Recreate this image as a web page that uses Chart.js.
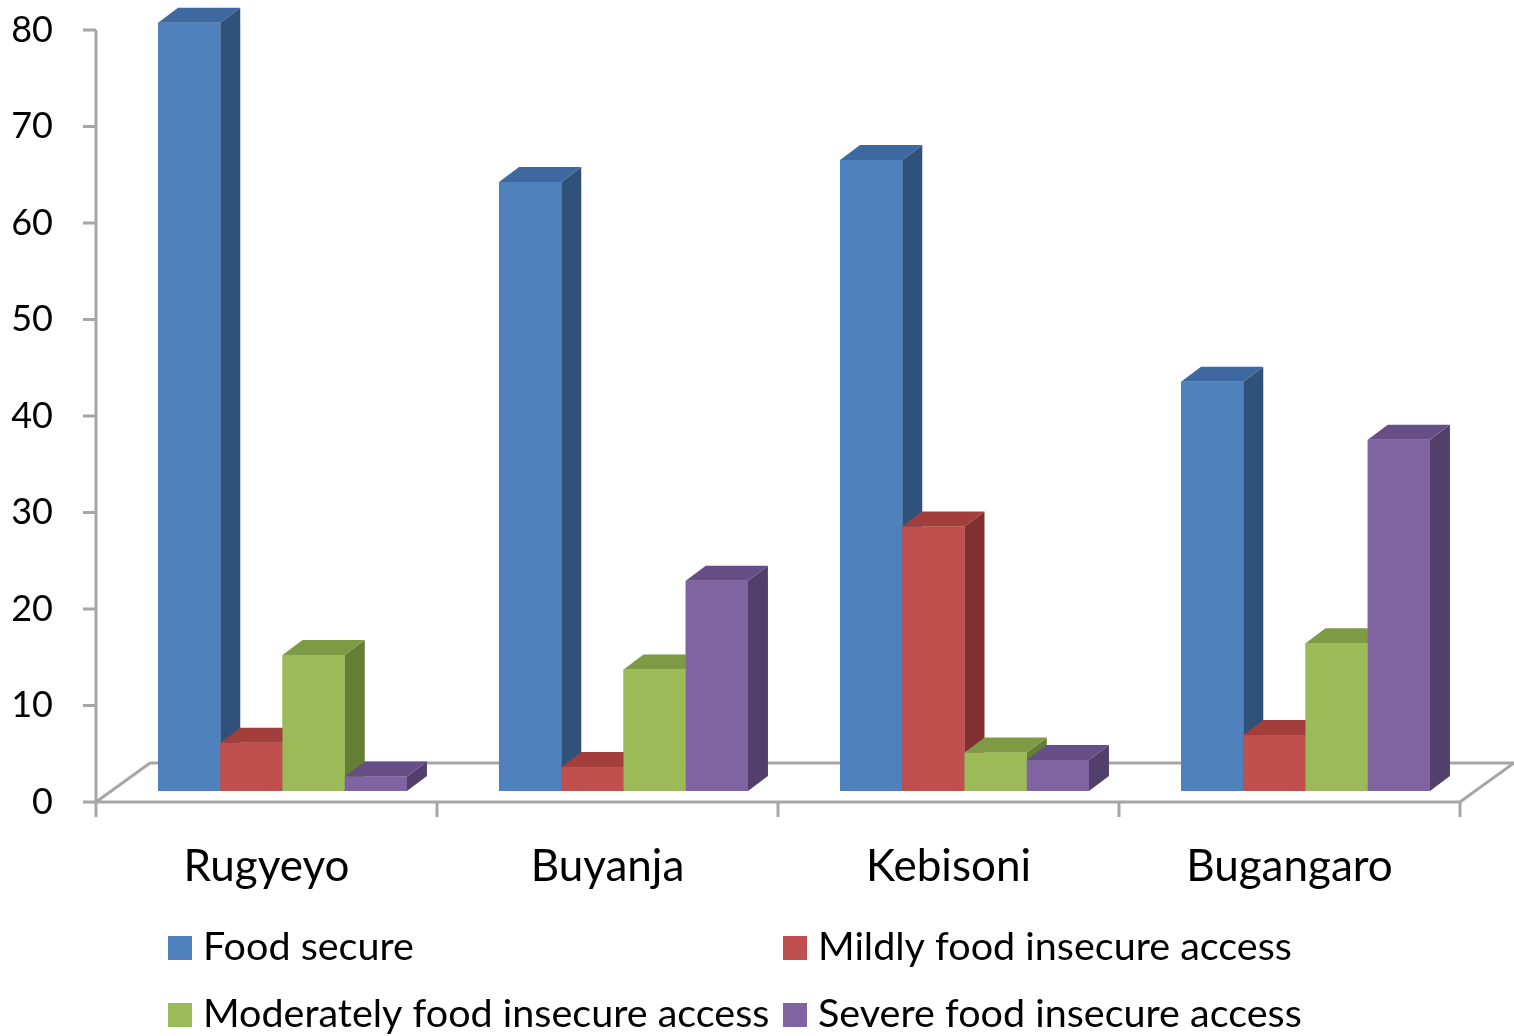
<!DOCTYPE html>
<html>
<head>
<meta charset="utf-8">
<script src="https://cdn.jsdelivr.net/npm/chart.js@4.4.1/dist/chart.umd.min.js"></script>
<style>
  html, body { margin: 0; padding: 0; background: #fff; }
  #wrap { width: 1514px; height: 1036px; position: relative; }
</style>
</head>
<body>
<div id="wrap"><canvas id="bar-chart"></canvas></div>
<script>
// household food security by sub-county (%)
const districts = ['Rugyeyo', 'Buyanja', 'Kebisoni', 'Bugangaro'];
const foodSecure = [79.6, 63.1, 65.4, 42.4];
const mildlyInsecure = [5.0, 2.5, 27.4, 5.8];
const moderatelyInsecure = [14.1, 12.6, 4.0, 15.3];
const severelyInsecure = [1.5, 21.8, 3.2, 36.4];
const seriesNames = ['Food secure', 'Mildly food insecure access',
                     'Moderately food insecure access', 'Severe food insecure access'];
const yMin = 0, yMax = 80, yStep = 10;

// front / top / side shades for the 3d boxes
const shades = [
    { front: '#4F81BD', top: '#3D68A0', side: '#30517A' },
    { front: '#C0504D', top: '#A23E3B', side: '#80302E' },
    { front: '#9BBB59', top: '#7E9A45', side: '#657E35' },
    { front: '#8064A2', top: '#664F87', side: '#523F6B' }
];

const FONT = 'Lato, "Open Sans", sans-serif';
const BAR_DX = 20, BAR_DY = -15;     // box depth
const PLANE_DX = 16, PLANE_DY = 11;  // bars sit this far behind the front edge
const FLOOR_DX = 54, FLOOR_DY = -39; // floor depth
const AXIS_GREY = '#A6A6A6';

// floor, walls and axis lines
var floorPlugin = {
    id: 'floor3d',
    beforeDatasetsDraw: function(chart) {
        var ctx = chart.ctx, area = chart.chartArea;
        var ys = chart.scales.y;
        var left = area.left - PLANE_DX, right = area.right - PLANE_DX;
        var base = ys.getPixelForValue(yMin) + PLANE_DY;
        var top = ys.getPixelForValue(yMax) + PLANE_DY;

        ctx.save();
        ctx.strokeStyle = AXIS_GREY;
        ctx.lineWidth = 3;
        ctx.fillStyle = '#fff';
        ctx.beginPath();
        ctx.moveTo(left, base);
        ctx.lineTo(right, base);
        ctx.lineTo(right + FLOOR_DX, base + FLOOR_DY);
        ctx.lineTo(left + FLOOR_DX, base + FLOOR_DY);
        ctx.closePath();
        ctx.fill();
        ctx.stroke();

        // value axis with tick marks
        ctx.beginPath();
        ctx.moveTo(left, top);
        ctx.lineTo(left, base);
        for (var v = yMin; v <= yMax; v += yStep) {
            var py = ys.getPixelForValue(v) + PLANE_DY;
            ctx.moveTo(left - 13, py);
            ctx.lineTo(left, py);
        }
        // category separators
        var step = (right - left) / districts.length;
        for (var i = 0; i <= districts.length; i++) {
            ctx.moveTo(left + step * i, base);
            ctx.lineTo(left + step * i, base + 15);
        }
        ctx.stroke();
        ctx.restore();
    }
};

// side and top faces; each box is redrawn left to right so later fronts cover earlier sides
var boxPlugin = {
    id: 'box3d',
    afterDatasetsDraw: function(chart) {
        var ctx = chart.ctx;
        var metas = chart.data.datasets.map(function(d, i) { return chart.getDatasetMeta(i); });
        ctx.save();
        for (var c = 0; c < districts.length; c++) {
            metas.forEach(function(meta, s) {
                var bar = meta.data[c];
                if (!bar) return;
                var p = bar.getProps(['x', 'y', 'base', 'width'], true);
                var l = p.x - p.width / 2, r = p.x + p.width / 2;
                var col = shades[s];

                ctx.fillStyle = col.side;
                ctx.beginPath();
                ctx.moveTo(r, p.y);
                ctx.lineTo(r + BAR_DX, p.y + BAR_DY);
                ctx.lineTo(r + BAR_DX, p.base + BAR_DY);
                ctx.lineTo(r, p.base);
                ctx.closePath();
                ctx.fill();

                ctx.fillStyle = col.top;
                ctx.beginPath();
                ctx.moveTo(l, p.y);
                ctx.lineTo(r, p.y);
                ctx.lineTo(r + BAR_DX, p.y + BAR_DY);
                ctx.lineTo(l + BAR_DX, p.y + BAR_DY);
                ctx.closePath();
                ctx.fill();

                ctx.fillStyle = col.front;
                ctx.fillRect(l, p.y, r - l, p.base - p.y);
            });
        }
        ctx.restore();
    }
};

// two-column legend under the category labels
var legendPlugin = {
    id: 'gridLegend',
    afterDraw: function(chart) {
        var ctx = chart.ctx;
        var cols = [168, 783], rows = [960, 1027];
        ctx.save();
        ctx.font = '39.5px ' + FONT;
        ctx.textBaseline = 'alphabetic';
        ctx.textAlign = 'left';
        chart.data.datasets.forEach(function(ds, i) {
            var x = cols[i % 2], y = rows[Math.floor(i / 2)];
            ctx.fillStyle = ds.backgroundColor;
            ctx.fillRect(x, y - 24, 24, 24);
            ctx.fillStyle = '#000';
            ctx.fillText(ds.label, x + 35, y);
        });
        ctx.restore();
    }
};

var series = [foodSecure, mildlyInsecure, moderatelyInsecure, severelyInsecure];

var ctx = document.getElementById('bar-chart');
var myChart = new Chart(ctx, {
    type: 'bar',
    data: {
        labels: districts,
        datasets: series.map(function(values, i) {
            return {
                label: seriesNames[i],
                data: values,
                backgroundColor: shades[i].front,
                borderWidth: 0,
                barPercentage: 1,
                categoryPercentage: 0.73
            };
        })
    },
    options: {
        responsive: true,
        maintainAspectRatio: false,
        animation: false,
        layout: { padding: { top: 19, right: 38, bottom: 0, left: 0 } },
        plugins: {
            legend: { display: false },
            tooltip: { enabled: false }
        },
        scales: {
            x: {
                grid: { display: false, drawTicks: false },
                border: { display: false },
                ticks: {
                    color: '#000',
                    font: { family: FONT, size: 44 },
                    padding: 49,
                    labelOffset: -PLANE_DX,
                    maxRotation: 0
                },
                afterFit: function(scale) {
                    scale.height = 245;
                    scale.paddingLeft = 0;
                    scale.paddingRight = 0;
                }
            },
            y: {
                min: yMin,
                max: yMax,
                grid: { display: false, drawTicks: false },
                border: { display: false },
                ticks: {
                    stepSize: yStep,
                    color: '#000',
                    font: { family: FONT, size: 36 },
                    padding: 59,
                    labelOffset: PLANE_DY
                },
                afterFit: function(scale) {
                    scale.width = 112;
                    scale.paddingTop = 0;
                    scale.paddingBottom = 0;
                }
            }
        }
    },
    plugins: [floorPlugin, boxPlugin, legendPlugin]
});
</script>
</body>
</html>
